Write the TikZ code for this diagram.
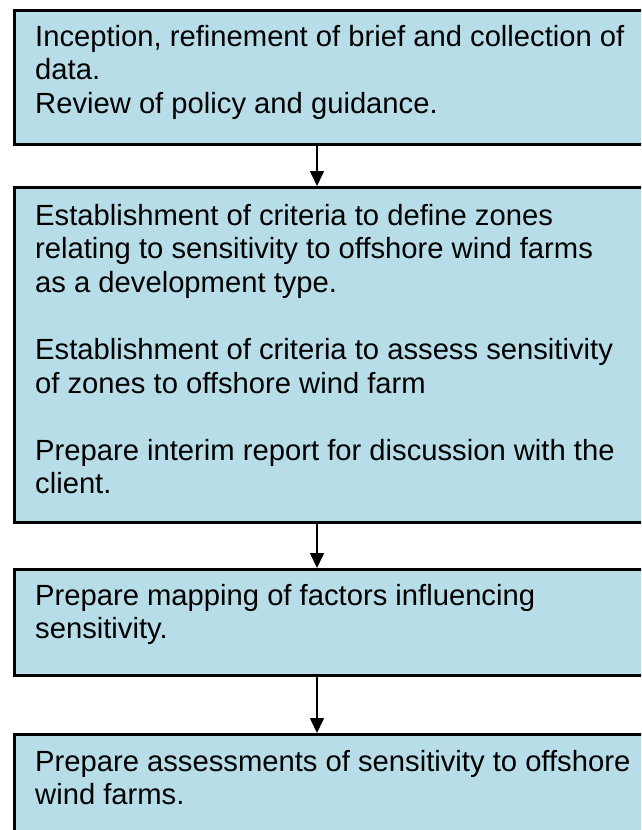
\documentclass[tikz,border=0pt]{standalone}
\usepackage{fontspec}
\setmainfont{Liberation Sans}
\usetikzlibrary{arrows.meta}
\definecolor{boxblue}{HTML}{B7DDE8}
\newcommand{\boxtext}[1]{\vtop{\fontsize{29.2}{33.6}\selectfont #1}}
\newcommand{\txtline}[1]{\hbox{\strut #1}}
\tikzset{
  stagebox/.style={draw=black, fill=boxblue, line width=2.5pt, rectangle, anchor=north west, inner sep=0pt, minimum width=660pt},
  stagetext/.style={anchor=base west, inner sep=0pt, text=black},
  flowarrow/.style={line width=1.6pt, -{Triangle[width=14pt,length=15pt]}}
}
\begin{document}
\begin{tikzpicture}[x=1pt,y=-1pt]
\useasboundingbox (0,0) rectangle (641,830);
\clip (0,0) rectangle (641,830);
\fill[white] (0,0) rectangle (641,830);
\node[stagebox, minimum height=134pt] (b1) at (13,9) {};
\node[stagebox, minimum height=335pt] (b2) at (13,186) {};
\node[stagebox, minimum height=106pt] (b3) at (13,568) {};
\node[stagebox, minimum height=140pt] (b4) at (13,733) {};
\node[stagetext] (t1) at (35,46) {\boxtext{\txtline{Inception, refinement of brief and collection of}\txtline{data.}\txtline{Review of policy and guidance.}}};
\node[stagetext] (t2) at (35,225) {\boxtext{\txtline{Establishment of criteria to define zones}\txtline{relating to sensitivity to offshore wind farms}\txtline{as a development type.}\txtline{}\txtline{Establishment of criteria to assess sensitivity}\txtline{of zones to offshore wind farm}\txtline{}\txtline{Prepare interim report for discussion with the}\txtline{client.}}};
\node[stagetext] (t3) at (35,605) {\boxtext{\txtline{Prepare mapping of factors influencing}\txtline{sensitivity.}}};
\node[stagetext] (t4) at (35,771) {\boxtext{\txtline{Prepare assessments of sensitivity to offshore}\txtline{wind farms.}}};
\coordinate (a1s) at (317,143);
\coordinate (a2s) at (317,521);
\coordinate (a3s) at (317,674);
\draw[flowarrow] (b1.south -| a1s) -- (b2.north -| a1s);
\draw[flowarrow] (b2.south -| a2s) -- (b3.north -| a2s);
\draw[flowarrow] (b3.south -| a3s) -- (b4.north -| a3s);
\end{tikzpicture}
\end{document}
